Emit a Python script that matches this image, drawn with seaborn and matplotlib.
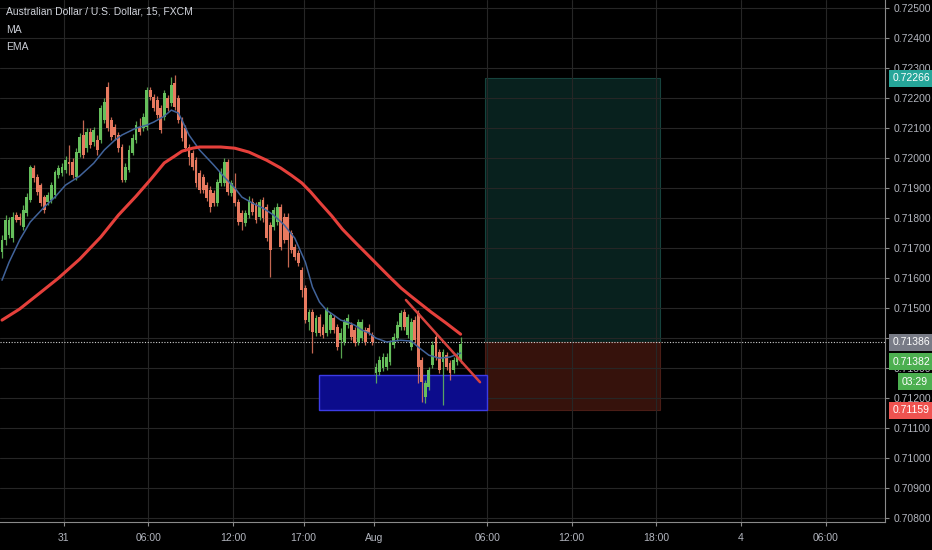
import matplotlib
matplotlib.use('Agg')

import numpy as np
import pandas as pd
import matplotlib.pyplot as plt
import seaborn as sns
from matplotlib.patches import Rectangle
from matplotlib.transforms import blended_transform_factory

# AUD/USD 15 min candles (bar 0 = leftmost candle)
opens = [0.71687, 0.71727, 0.71743, 0.71733, 0.71810, 0.71803, 0.71770, 0.71817, 0.71860, 0.71967,
         0.71937, 0.71910, 0.71870, 0.71853, 0.71860, 0.71877, 0.71943, 0.71950, 0.71960, 0.71987,
         0.71987, 0.71937, 0.72017, 0.72077, 0.72033, 0.72087, 0.72053, 0.72060, 0.72060, 0.72127,
         0.72237, 0.72127, 0.72103, 0.72077, 0.72037, 0.71927, 0.71960, 0.72017, 0.72060, 0.72103,
         0.72100, 0.72103, 0.72227, 0.72203, 0.72193, 0.72167, 0.72137, 0.72200, 0.72183, 0.72250,
         0.72200, 0.72127, 0.72100, 0.72037, 0.72017, 0.71993, 0.71950, 0.71937, 0.71910, 0.71893,
         0.71883, 0.71850, 0.71917, 0.71917, 0.71987, 0.71883, 0.71903, 0.71853, 0.71817, 0.71783,
         0.71810, 0.71853, 0.71843, 0.71803, 0.71860, 0.71837, 0.71777, 0.71770, 0.71787, 0.71837,
         0.71803, 0.71803, 0.71750, 0.71703, 0.71683, 0.71627, 0.71567, 0.71453, 0.71487, 0.71417,
         0.71470, 0.71437, 0.71417, 0.71427, 0.71467, 0.71437, 0.71393, 0.71387, 0.71443, 0.71443,
         0.71427, 0.71387, 0.71400, 0.71427, 0.71433, 0.71410, 0.71283, 0.71287, 0.71300, 0.71303,
         0.71320, 0.71377, 0.71400, 0.71437, 0.71487, 0.71410, 0.71370, 0.71460, 0.71483, 0.71327,
         0.71203, 0.71237, 0.71310, 0.71403, 0.71353, 0.71320, 0.71343, 0.71317, 0.71293, 0.71320,
         0.71327]
highs = [0.71743, 0.71810, 0.71803, 0.71820, 0.71820, 0.71817, 0.71843, 0.71883, 0.71977, 0.71977,
         0.71947, 0.71917, 0.71877, 0.71887, 0.71920, 0.71960, 0.71977, 0.71983, 0.72007, 0.72043,
         0.72000, 0.72033, 0.72083, 0.72127, 0.72100, 0.72100, 0.72103, 0.72077, 0.72177, 0.72200,
         0.72253, 0.72137, 0.72113, 0.72087, 0.72047, 0.71983, 0.72043, 0.72080, 0.72123, 0.72133,
         0.72150, 0.72237, 0.72237, 0.72213, 0.72207, 0.72177, 0.72227, 0.72210, 0.72270, 0.72277,
         0.72210, 0.72137, 0.72110, 0.72047, 0.72027, 0.72003, 0.71960, 0.71947, 0.71920, 0.71907,
         0.71893, 0.71930, 0.71967, 0.72000, 0.71997, 0.71927, 0.71950, 0.71863, 0.71827, 0.71827,
         0.71873, 0.71867, 0.71853, 0.71863, 0.71870, 0.71847, 0.71787, 0.71837, 0.71850, 0.71847,
         0.71817, 0.71817, 0.71760, 0.71713, 0.71693, 0.71637, 0.71577, 0.71497, 0.71497, 0.71477,
         0.71480, 0.71447, 0.71503, 0.71487, 0.71477, 0.71447, 0.71433, 0.71463, 0.71480, 0.71453,
         0.71437, 0.71463, 0.71463, 0.71437, 0.71447, 0.71420, 0.71317, 0.71340, 0.71350, 0.71350,
         0.71393, 0.71417, 0.71457, 0.71493, 0.71497, 0.71480, 0.71467, 0.71473, 0.71493, 0.71337,
         0.71260, 0.71303, 0.71390, 0.71417, 0.71363, 0.71363, 0.71353, 0.71327, 0.71337, 0.71353,
         0.71403]
lows = [0.71667, 0.71710, 0.71733, 0.71720, 0.71787, 0.71777, 0.71760, 0.71807, 0.71853, 0.71920,
        0.71877, 0.71840, 0.71817, 0.71843, 0.71850, 0.71867, 0.71933, 0.71940, 0.71950, 0.71943,
        0.71933, 0.71927, 0.72003, 0.72000, 0.72020, 0.72033, 0.72040, 0.72010, 0.72050, 0.72117,
        0.72090, 0.72060, 0.72060, 0.72020, 0.71920, 0.71920, 0.71953, 0.72010, 0.72050, 0.72077,
        0.72090, 0.72093, 0.72193, 0.72157, 0.72133, 0.72083, 0.72127, 0.72157, 0.72173, 0.72160,
        0.72117, 0.72057, 0.72023, 0.71977, 0.71960, 0.71903, 0.71883, 0.71883, 0.71857, 0.71820,
        0.71840, 0.71840, 0.71907, 0.71907, 0.71877, 0.71873, 0.71840, 0.71777, 0.71760, 0.71773,
        0.71800, 0.71810, 0.71783, 0.71793, 0.71787, 0.71723, 0.71603, 0.71760, 0.71777, 0.71693,
        0.71717, 0.71637, 0.71683, 0.71660, 0.71640, 0.71537, 0.71450, 0.71427, 0.71350, 0.71407,
        0.71407, 0.71400, 0.71407, 0.71417, 0.71417, 0.71360, 0.71333, 0.71377, 0.71433, 0.71393,
        0.71373, 0.71377, 0.71390, 0.71377, 0.71410, 0.71377, 0.71250, 0.71277, 0.71290, 0.71293,
        0.71310, 0.71367, 0.71390, 0.71427, 0.71427, 0.71400, 0.71360, 0.71383, 0.71250, 0.71187,
        0.71183, 0.71227, 0.71300, 0.71327, 0.71283, 0.71177, 0.71293, 0.71260, 0.71283, 0.71310,
        0.71317]
closes = [0.71727, 0.71793, 0.71793, 0.71803, 0.71793, 0.71793, 0.71827, 0.71870, 0.71970, 0.71933,
          0.71887, 0.71850, 0.71827, 0.71877, 0.71910, 0.71953, 0.71967, 0.71970, 0.71993, 0.71980,
          0.71943, 0.72020, 0.72070, 0.72010, 0.72087, 0.72043, 0.72093, 0.72027, 0.72167, 0.72187,
          0.72100, 0.72070, 0.72077, 0.72033, 0.71927, 0.71970, 0.72027, 0.72067, 0.72110, 0.72087,
          0.72137, 0.72227, 0.72203, 0.72167, 0.72143, 0.72093, 0.72217, 0.72167, 0.72243, 0.72170,
          0.72127, 0.72067, 0.72033, 0.72003, 0.71970, 0.71917, 0.71893, 0.71893, 0.71867, 0.71837,
          0.71850, 0.71920, 0.71953, 0.71987, 0.71887, 0.71917, 0.71850, 0.71787, 0.71787, 0.71817,
          0.71860, 0.71820, 0.71793, 0.71853, 0.71800, 0.71733, 0.71693, 0.71827, 0.71837, 0.71703,
          0.71727, 0.71727, 0.71693, 0.71670, 0.71650, 0.71560, 0.71460, 0.71487, 0.71420, 0.71467,
          0.71417, 0.71410, 0.71493, 0.71477, 0.71427, 0.71370, 0.71417, 0.71453, 0.71467, 0.71403,
          0.71383, 0.71453, 0.71453, 0.71387, 0.71420, 0.71387, 0.71303, 0.71327, 0.71337, 0.71337,
          0.71383, 0.71403, 0.71443, 0.71483, 0.71437, 0.71470, 0.71453, 0.71393, 0.71303, 0.71253,
          0.71250, 0.71293, 0.71377, 0.71337, 0.71293, 0.71353, 0.71303, 0.71283, 0.71327, 0.71343,
          0.71382]

# slow MA (red) and EMA (blue), sampled at bar positions
ma_bar = [0, 5, 11, 16, 22, 28, 33, 38, 42, 46, 49, 51, 54, 56, 62, 66, 70, 75, 79, 82,
          85, 87.5, 90, 93.5, 96.5, 100.3, 103.7, 107.4, 110.2, 113.1, 115.9, 118.8, 121.6, 125.9, 130]
ma_val = [0.71460, 0.71497, 0.71553, 0.71600, 0.71663, 0.71737, 0.71810, 0.71873, 0.71927, 0.71984,
          0.72007, 0.72023, 0.72033, 0.72037, 0.72037, 0.72033, 0.72020, 0.71993, 0.71967, 0.71943,
          0.71917, 0.71887, 0.71853, 0.71807, 0.71763, 0.71717, 0.71677, 0.71633, 0.71600, 0.71567,
          0.71540, 0.71513, 0.71487, 0.71450, 0.71413]
ema_bar = [0, 2, 5, 8, 12, 15, 18, 22, 26, 29, 32, 34, 38, 41, 43, 46, 48, 50, 51, 53,
           56, 60, 63, 66, 68, 71, 74, 77, 80, 83, 86, 88, 90, 92, 94, 96, 98, 100, 102, 104,
           106, 109, 113, 116, 118, 121, 124, 127, 130]
ema_val = [0.71593, 0.71653, 0.71727, 0.71787, 0.71837, 0.71870, 0.71910, 0.71940, 0.71983, 0.72027,
           0.72060, 0.72077, 0.72100, 0.72110, 0.72120, 0.72140, 0.72160, 0.72150, 0.72127, 0.72077,
           0.72027, 0.71977, 0.71937, 0.71900, 0.71870, 0.71850, 0.71833, 0.71810, 0.71777, 0.71733,
           0.71653, 0.71570, 0.71520, 0.71493, 0.71477, 0.71460, 0.71453, 0.71443, 0.71427, 0.71417,
           0.71400, 0.71387, 0.71393, 0.71390, 0.71370, 0.71343, 0.71333, 0.71337, 0.71350]

# drawn objects
trend_bar = [114.5, 135.5]
trend_price = [0.71527, 0.71253]
demand_bars = [89.8, 137.5]
demand_prices = [0.71160, 0.71277]
entry, target, stop = 0.71386, 0.72266, 0.71159
last_price = 0.71382
position_bars = [137.0, 186.5]

tick_bars = [17.5, 41.5, 65.5, 85.5, 105.5, 137.5, 161.5, 185.5, 209.5, 233.5]
tick_labels = ['31', '06:00', '12:00', '17:00', 'Aug', '06:00', '12:00', '18:00', '4', '06:00']
price_ticks = np.round(np.arange(0.708, 0.7255, 0.001), 3)

sns.set_theme(style='dark', rc={'axes.facecolor': 'black', 'figure.facecolor': 'black'})
plt.rcParams['font.family'] = ['Liberation Sans', 'DejaVu Sans']

TXT = '#b2b5be'
GRID = '#262626'
UP, DOWN = '#66bf5c', '#e87a60'
FS = 7.5

fig = plt.figure(figsize=(9.32, 5.5), dpi=100)
ax = fig.add_axes([0, 28 / 550, 885 / 932, 522 / 550])
ax.set_facecolor('black')

# grid
for p in price_ticks:
    ax.axhline(p, color=GRID, lw=0.8, zorder=0.6)
for b in tick_bars:
    ax.axvline(b, color=GRID, lw=0.8, zorder=0.6)

# long position tool
ax.add_patch(Rectangle((position_bars[0], entry), position_bars[1] - position_bars[0],
                       target - entry, fc='#08211e', ec='#16433d', lw=0.8, zorder=0.5))
ax.add_patch(Rectangle((position_bars[0], stop), position_bars[1] - position_bars[0],
                       entry - stop, fc='#36120c', ec='#4a1d16', lw=0.8, zorder=0.5))

# demand zone
ax.add_patch(Rectangle((demand_bars[0], demand_prices[0]), demand_bars[1] - demand_bars[0],
                       demand_prices[1] - demand_prices[0], fc='#0c0c8c', ec='#3c3ce6',
                       lw=1.0, zorder=1.5))

ax.axhline(entry, color='#d0d0d0', lw=0.8, ls=(0, (1, 1.5)), zorder=2.5)

# candles
df = pd.DataFrame({'open': opens, 'high': highs, 'low': lows, 'close': closes})
df['bar'] = np.arange(len(df))
up = df['close'] >= df['open']
colors = np.where(up, UP, DOWN)
ax.vlines(df['bar'], df['low'], df['high'], colors=colors, lw=0.9, alpha=0.85, zorder=3)
body_lo = df[['open', 'close']].min(axis=1)
body_h = (df['close'] - df['open']).abs().clip(lower=0.00002)
ax.bar(df['bar'], body_h, bottom=body_lo, width=0.8, color=colors, linewidth=0, zorder=3.5)

# moving averages
sns.lineplot(x=ema_bar, y=ema_val, ax=ax, color='#41639a', lw=1.1, zorder=4)
sns.lineplot(x=ma_bar, y=ma_val, ax=ax, color='#e5403b', lw=2.2, zorder=4.2)
sns.lineplot(x=trend_bar, y=trend_price, ax=ax, color='#d8433e', lw=1.8, zorder=4.5)

ax.set_xlim(-0.57, 250.3)
ax.set_ylim(0.70787, 0.72527)
ax.set_xticks(tick_bars)
ax.set_xticklabels(tick_labels)
ax.set_yticks(price_ticks)
ax.set_yticklabels([f'{p:.5f}' for p in price_ticks])
ax.yaxis.tick_right()
ax.tick_params(axis='y', length=3, width=0.8, color='#8a8a8a', labelcolor=TXT,
               labelsize=FS, pad=3, right=True, left=False)
ax.tick_params(axis='x', length=3, width=0.8, color='#8a8a8a', labelcolor=TXT,
               labelsize=FS, pad=5, bottom=True)
ax.set_xlabel('')
ax.set_ylabel('')
for side in ['top', 'left']:
    ax.spines[side].set_visible(False)
for side in ['right', 'bottom']:
    ax.spines[side].set_visible(True)
    ax.spines[side].set_color('#8a8a8a')
    ax.spines[side].set_linewidth(0.8)

# price tags on the axis
trans = blended_transform_factory(ax.transAxes, ax.transData)
tags = [(target, '0.72266', '#26a69a', 0), (entry, '0.71386', '#787b86', 0),
        (last_price, '0.71382', '#4caf50', -18), (stop, '0.71159', '#ef5350', 0)]
for price, label, fc, dy in tags:
    ax.annotate(label, xy=(1, price), xycoords=trans, xytext=(8, dy),
                textcoords='offset pixels', ha='left', va='center', color='white',
                fontsize=FS, annotation_clip=False,
                bbox=dict(boxstyle='square,pad=0.35', fc=fc, ec='none'))
ax.annotate('03:29', xy=(1, last_price), xycoords=trans, xytext=(43, -38),
            textcoords='offset pixels', ha='right', va='center', color='white',
            fontsize=FS, annotation_clip=False,
            bbox=dict(boxstyle='square,pad=0.35', fc='#4caf50', ec='none'))

# header
fig.text(6 / 932, 1 - 12 / 550, 'Australian Dollar / U.S. Dollar, 15, FXCM',
         color='#d1d4dc', fontsize=7.5, va='center', ha='left')
fig.text(6 / 932, 1 - 30 / 550, 'MA', color='#c9ccd4', fontsize=7.5, va='center', ha='left')
fig.text(6 / 932, 1 - 47 / 550, 'EMA', color='#c9ccd4', fontsize=7.5, va='center', ha='left')

fig.savefig('out.png', dpi=100, facecolor='black')
